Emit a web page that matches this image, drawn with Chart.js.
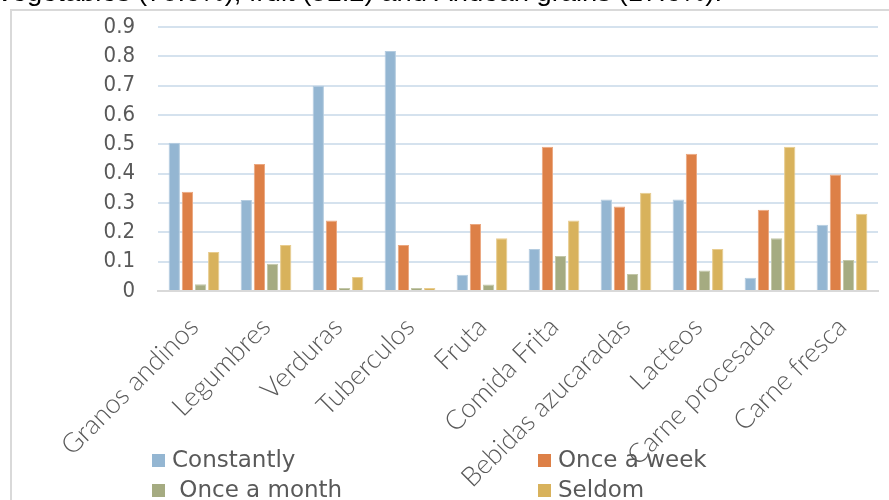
<!DOCTYPE html>
<html>
<head>
<meta charset="utf-8">
<script src="https://cdn.jsdelivr.net/npm/chart.js@4/dist/chart.umd.min.js"></script>
<style>
html,body{margin:0;padding:0;background:#fff;}
#wrap{position:relative;width:889px;height:500px;}
</style>
</head>
<body>
<div id="wrap"><canvas id="c" width="889" height="500"></canvas></div>
<script>
const caption = "vegetables (70.6%), fruit (51.2) and Andean grains (17.6%).";
const categories = ["Granos andinos","Legumbres","Verduras","Tuberculos","Fruta","Comida Frita","Bebidas azucaradas","Lacteos","Carne procesada","Carne fresca"];
const seriesNames = ["Constantly","Once a week"," Once a month","Seldom"];
const constantly = [0.505,0.31,0.70,0.818,0.055,0.143,0.312,0.312,0.045,0.226];
const onceWeek   = [0.338,0.433,0.24,0.157,0.228,0.492,0.288,0.468,0.277,0.397];
const onceMonth  = [0.023,0.093,0.01,0.01,0.022,0.119,0.058,0.07,0.18,0.106];
const seldom     = [0.133,0.157,0.048,0.01,0.18,0.24,0.335,0.143,0.492,0.263];
const yTicks = [0,0.1,0.2,0.3,0.4,0.5,0.6,0.7,0.8,0.9];

const colors = ["#94b6d2","#dd8047","#a5ab81","#d8b25c"];
const edgeColors = ["#b4cce0","#eba77f","#c3c7a8","#e8cc8e"];
const values = [constantly, onceWeek, onceMonth, seldom];

const framePlugin = {
  id: 'frame',
  beforeDraw(chart){
    const ctx = chart.ctx;
    ctx.save();
    ctx.fillStyle = '#fff';
    ctx.fillRect(0,0,chart.width,chart.height);
    ctx.strokeStyle = '#d9d9d9';
    ctx.lineWidth = 2;
    ctx.strokeRect(11,10,chart.width+10,chart.height+10);
    ctx.fillStyle = '#000';
    ctx.textBaseline = 'alphabetic';
    const size = 26;
    ctx.font = size + 'px "Liberation Sans"';
    const w = ctx.measureText(caption).width;
    const target = 724;
    ctx.save();
    ctx.translate(-2, 1);
    ctx.scale(target / w, 1);
    ctx.fillText(caption, 0, 0);
    ctx.restore();
    ctx.restore();
  },
  afterDraw(chart){
    const ctx = chart.ctx;
    ctx.save();
    ctx.font = '23px "DejaVu Sans"';
    ctx.textBaseline = 'middle';
    const pos = [[152,460],[538,460],[152,490],[538,490]];
    chart.data.datasets.forEach((ds,i)=>{
      const [x,y] = pos[i];
      ctx.fillStyle = ds.backgroundColor;
      ctx.fillRect(x, y-6, 13, 13);
      ctx.fillStyle = '#595959';
      ctx.fillText(ds.label, x+20, y+1);
    });
    ctx.restore();
  }
};

new Chart(document.getElementById('c'), {
  type: 'bar',
  data: {
    labels: categories,
    datasets: seriesNames.map((n,i)=>({
      label: n,
      data: values[i],
      backgroundColor: colors[i],
      borderColor: edgeColors[i],
      borderWidth: 1,
      categoryPercentage: 0.73,
      barPercentage: 0.86
    }))
  },
  options: {
    responsive: false,
    animation: false,
    devicePixelRatio: 1,
    layout: { padding: { top: 27, right: 11, left: 0, bottom: 0 } },
    plugins: { legend: { display: false }, tooltip: { enabled: false } },
    scales: {
      x: {
        grid: { display: false, drawTicks: false },
        border: { display: true, color: '#d9d9d9', width: 2 },
        ticks: {
          maxRotation: 45, minRotation: 45, autoSkip: false,
          color: '#595959', padding: 20,
          font: { family: 'Lato', size: 27, weight: 300 }
        },
        afterFit(scale){ scale.height = 209; }
      },
      y: {
        min: 0, max: 0.9,
        afterBuildTicks(scale){ scale.ticks = yTicks.map(v=>({value:v})); },
        grid: { color: '#d5e2ee', lineWidth: 2, drawTicks: true, tickLength: 23, tickColor: 'rgba(0,0,0,0)' },
        border: { display: false },
        ticks: {
          autoSkip: false,
          color: '#595959', padding: 0,
          font: { family: 'DejaVu Sans Condensed', size: 22 },
          callback: (v)=> String(Math.round(v*10)/10)
        },
        afterFit(scale){ scale.width = 158; }
      }
    }
  },
  plugins: [framePlugin]
});
</script>
</body>
</html>
